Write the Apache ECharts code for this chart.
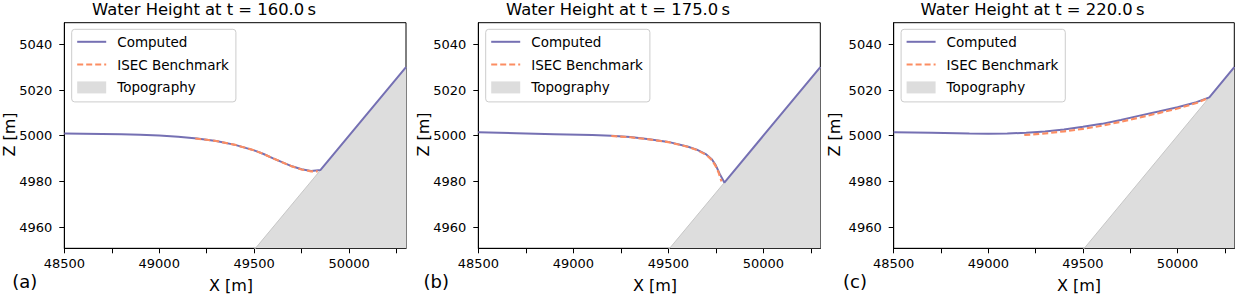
<!DOCTYPE html>
<html>
<head>
<meta charset="utf-8">
<script src="https://cdn.jsdelivr.net/npm/echarts@6/dist/echarts.min.js"></script>
<style>
html,body{margin:0;padding:0;background:#fff;}
#chart{width:1236px;height:296px;}
</style>
</head>
<body>
<div id="chart"></div>
<script>
// ---- tick values / labels ----
const xTicks = [48500, 48750, 49000, 49250, 49500, 49750, 50000, 50250];
const xLabels = [48500, 49000, 49500, 50000];
const zTicks = [4960, 4980, 5000, 5020, 5040];
const titles = ['Water Height at t = 160.0\u2009s', 'Water Height at t = 175.0\u2009s', 'Water Height at t = 220.0\u2009s'];
const panelTags = ['(a)', '(b)', '(c)'];
const seriesNames = ['Computed', 'ISEC Benchmark', 'Topography'];

// ---- topography (same in all panels) ----
const topoX = [49500, 50300];
const topoZ = [4950, 5030];

// ---- panel (a) t = 160 s ----
const compXa = [48500, 48600, 48700, 48800, 48900, 49000, 49100, 49200, 49300, 49400, 49500, 49550, 49600, 49650, 49700, 49750, 49800, 49850, 50000, 50300];
const compZa = [5001.0, 5000.9, 5000.8, 5000.6, 5000.4, 5000.1, 4999.6, 4998.8, 4997.7, 4996.0, 4993.6, 4992.0, 4990.1, 4988.3, 4986.6, 4985.3, 4984.6, 4985.0, 5000.0, 5030.0];
const benchXa = [49190, 49300, 49400, 49500, 49550, 49600, 49650, 49700, 49750, 49800, 49835];
const benchZa = [4998.8, 4997.7, 4996.0, 4993.6, 4992.0, 4990.1, 4988.3, 4986.5, 4985.2, 4984.4, 4984.4];

// ---- panel (b) t = 175 s ----
const compXb = [48500, 48700, 48900, 49100, 49200, 49300, 49400, 49500, 49600, 49650, 49700, 49730, 49750, 49770, 49795, 50000, 50300];
const compZb = [5001.5, 5001.1, 5000.7, 5000.3, 5000.0, 4999.4, 4998.5, 4997.3, 4995.3, 4993.9, 4991.8, 4989.6, 4987.0, 4983.4, 4979.5, 5000.0, 5030.0];
const benchXb = [49200, 49300, 49400, 49500, 49600, 49650, 49700, 49730, 49750, 49765, 49780];
const benchZb = [4999.9, 4999.3, 4998.4, 4997.2, 4995.2, 4993.8, 4991.6, 4989.3, 4986.6, 4983.8, 4980.0];

// ---- panel (c) t = 220 s ----
const compXc = [48500, 48700, 48900, 49000, 49100, 49200, 49300, 49400, 49500, 49600, 49700, 49800, 49900, 50000, 50100, 50168, 50300];
const compZc = [5001.5, 5001.3, 5001.0, 5000.9, 5001.0, 5001.3, 5001.8, 5002.7, 5003.9, 5005.2, 5006.9, 5008.8, 5010.6, 5012.5, 5014.7, 5016.8, 5030.0];
const benchXc = [49190, 49300, 49400, 49500, 49600, 49700, 49800, 49900, 50000, 50100, 50160];
const benchZc = [5000.3, 5001.0, 5001.9, 5003.0, 5004.4, 5006.1, 5008.0, 5009.9, 5011.9, 5014.3, 5016.4];

const computedX = [compXa, compXb, compXc];
const computedZ = [compZa, compZb, compZc];
const benchX = [benchXa, benchXb, benchXc];
const benchZ = [benchZa, benchZb, benchZc];

// ---- layout ----
const FONT = 'DejaVu Sans';
const COL_COMP = '#7570b3';
const COL_BENCH = '#fc8d62';
const COL_TOPO = '#dddddd';
const gridLeft = [64.3, 478.3, 893.7];
const gridWidth = [341.7, 342, 340.6];
const gridTop = 22.7, gridHeight = 225.6;
const titleCx = [204, 618, 1032.5];
const tagCx = [24.7, 436.3, 855];
const xNameCx = [231, 655, 1079];
const zNameCx = [9.8, 423.5, 834.2];

const pairs = (xs, zs) => xs.map((x, i) => [x, zs[i]]);
const plain = v => String(v);
const hiddenSymbol = {color: 'rgba(0,0,0,0)', borderColor: 'rgba(0,0,0,0)', borderWidth: 0};

const grids = [], xAxes = [], yAxes = [], series = [], legends = [], graphics = [];
for (let i = 0; i < 3; i++) {
  grids.push({left: gridLeft[i], top: gridTop, width: gridWidth[i], height: gridHeight,
    show: true, borderColor: '#000', borderWidth: 1, backgroundColor: 'transparent'});
  xAxes.push({type: 'value', gridIndex: i, min: 48500, max: 50300,
    axisLine: {show: true, onZero: false, lineStyle: {color: '#000', width: 1}},
    axisTick: {show: true, customValues: xTicks, length: 5, lineStyle: {color: '#000', width: 1}},
    axisLabel: {customValues: xLabels, formatter: plain, fontSize: 13, fontFamily: FONT, color: '#000', margin: 9},
    splitLine: {show: false}});
  yAxes.push({type: 'value', gridIndex: i, min: 4950.7, max: 5049.5,
    axisLine: {show: true, onZero: false, lineStyle: {color: '#000', width: 1}},
    axisTick: {show: true, customValues: zTicks, length: 5, lineStyle: {color: '#000', width: 1}},
    axisLabel: {customValues: zTicks, formatter: plain, fontSize: 13, fontFamily: FONT, color: '#000', margin: 12},
    splitLine: {show: false}});
  series.push({name: seriesNames[2], type: 'line', xAxisIndex: i, yAxisIndex: i,
    data: pairs(topoX, topoZ), symbol: 'none', z: 1, clip: true, silent: true,
    lineStyle: {color: '#c6c6c6', width: 1},
    itemStyle: {color: COL_TOPO},
    areaStyle: {color: COL_TOPO, opacity: 1, origin: 'start'}});
  series.push({name: seriesNames[0], type: 'line', xAxisIndex: i, yAxisIndex: i,
    data: pairs(computedX[i], computedZ[i]), symbol: 'none', z: 2, clip: true,
    lineStyle: {color: COL_COMP, width: 2}, itemStyle: {color: COL_COMP}});
  series.push({name: seriesNames[1], type: 'line', xAxisIndex: i, yAxisIndex: i,
    data: pairs(benchX[i], benchZ[i]), symbol: 'none', z: 3, clip: true,
    lineStyle: {color: COL_BENCH, width: 2.1, type: [6, 3]}, itemStyle: {color: COL_BENCH}});
  legends.push({show: true, orient: 'vertical', left: gridLeft[i] + 7.4, top: 29.3,
    padding: [5.5, 7, 7.5, 4.5], itemGap: 8.8, itemWidth: 29, itemHeight: 12,
    borderColor: '#cccccc', borderWidth: 1, borderRadius: 3, backgroundColor: 'rgba(255,255,255,0.8)',
    selectedMode: false,
    textStyle: {fontSize: 13.5, fontFamily: FONT, color: '#000', padding: [0, 0, 0, 6]},
    data: [{name: seriesNames[0], itemStyle: hiddenSymbol}, {name: seriesNames[1], itemStyle: hiddenSymbol},
      {name: seriesNames[2], icon: 'rect', itemStyle: {color: COL_TOPO, borderWidth: 0}}]});
  graphics.push({type: 'text', x: titleCx[i], y: 9, silent: true,
    style: {text: titles[i], fontSize: 16.4, fontFamily: FONT, fill: '#000', align: 'center', verticalAlign: 'middle'}});
  graphics.push({type: 'text', x: tagCx[i], y: 281, silent: true,
    style: {text: panelTags[i], fontSize: 18, fontFamily: FONT, fill: '#000', align: 'center', verticalAlign: 'middle'}});
  graphics.push({type: 'text', x: xNameCx[i], y: 285.5, silent: true,
    style: {text: 'X [m]', fontSize: 16, fontFamily: FONT, fill: '#000', align: 'center', verticalAlign: 'middle'}});
  graphics.push({type: 'text', x: zNameCx[i], y: 134.5, rotation: Math.PI / 2, silent: true,
    style: {text: 'Z [m]', fontSize: 16, fontFamily: FONT, fill: '#000', align: 'center', verticalAlign: 'middle'}});
}

const chart = echarts.init(document.getElementById('chart'), null, {renderer: 'svg'});
chart.setOption({
  animation: false,
  backgroundColor: '#fff',
  grid: grids, xAxis: xAxes, yAxis: yAxes, series: series, legend: legends, graphic: graphics
});
</script>
</body>
</html>
